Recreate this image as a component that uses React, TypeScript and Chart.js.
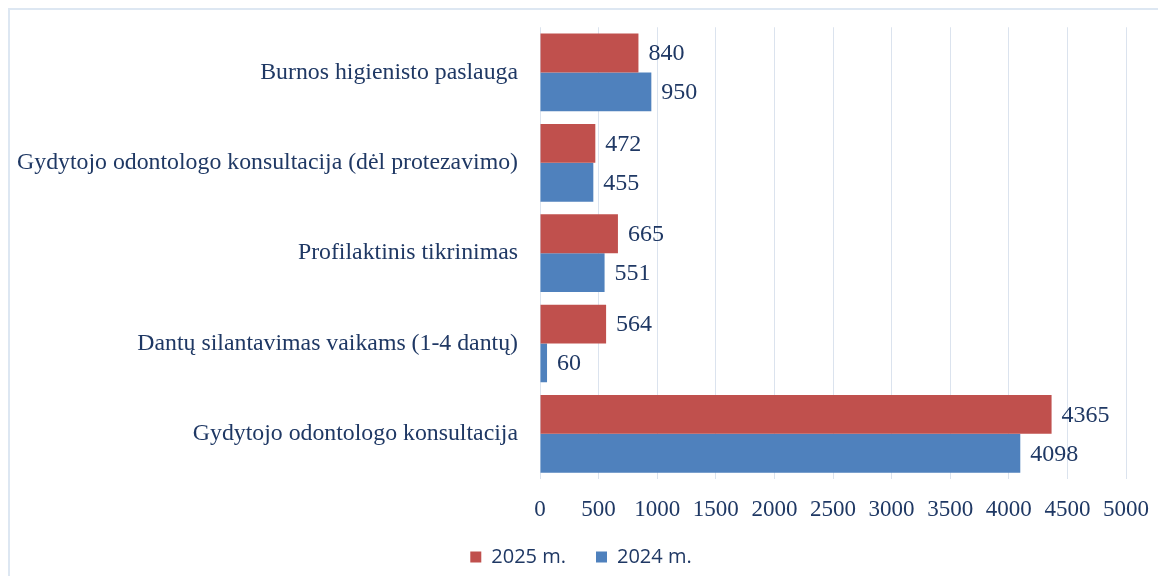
import React, { useEffect, useRef } from "react";
import { Chart, registerables } from "chart.js";

Chart.register(...registerables);

const categories = [
  "Burnos higienisto paslauga",
  "Gydytojo odontologo konsultacija (dėl protezavimo)",
  "Profilaktinis tikrinimas",
  "Dantų silantavimas vaikams (1-4 dantų)",
  "Gydytojo odontologo konsultacija",
];
const series2025 = [840, 472, 665, 564, 4365];
const series2024 = [950, 455, 551, 60, 4098];
const seriesLabels = ["2025 m.", "2024 m."];
const seriesColors = ["#C0504D", "#4F81BD"];
const xTicksMax = 5000;
const xTickStep = 500;

const TEXT = "#1F3864";
const SERIF = "'Liberation Serif', 'Times New Roman', serif";

const valueLabels = {
  id: "valueLabels",
  afterDatasetsDraw(chart: any) {
    const ctx = chart.ctx;
    ctx.save();
    ctx.font = `24px ${SERIF}`;
    ctx.fillStyle = TEXT;
    ctx.textAlign = "left";
    ctx.textBaseline = "middle";
    chart.data.datasets.forEach((ds: any, i: number) => {
      const meta = chart.getDatasetMeta(i);
      meta.data.forEach((el: any, j: number) => {
        ctx.fillText(String(ds.data[j]), el.x + 10, el.y + 1);
      });
    });
    ctx.restore();
  },
};

const legendShift = {
  id: "legendShift",
  beforeDraw(chart: any) {
    if (chart.legend) {
      chart.legend.left = 25;
    }
  },
};

export default function App() {
  const ref = useRef<HTMLCanvasElement>(null);
  useEffect(() => {
    document.body.style.overflow = "hidden";
    const chart = new Chart(ref.current!, {
      type: "bar",
      data: {
        labels: categories,
        datasets: [
          { label: seriesLabels[0], data: series2025, backgroundColor: seriesColors[0] },
          { label: seriesLabels[1], data: series2024, backgroundColor: seriesColors[1] },
        ],
      },
      options: {
        indexAxis: "y",
        animation: false,
        responsive: false,
        layout: { padding: { top: 0, right: 39, left: 0, bottom: 0 } },
        datasets: { bar: { categoryPercentage: 0.86, barPercentage: 1.0 } },
        scales: {
          x: {
            min: 0,
            max: xTicksMax,
            ticks: {
              stepSize: xTickStep,
              color: TEXT,
              font: { family: SERIF, size: 23 },
              padding: 17,
              callback: (v: any) => String(v),
            },
            grid: { color: "#dbe3ee", lineWidth: 1, drawTicks: false },
            border: { display: false },
            afterFit: (s: any) => { s.height = 38; },
          },
          y: {
            ticks: { color: TEXT, font: { family: SERIF, size: 23.8 }, padding: 22 },
            grid: { display: false, drawTicks: false },
            border: { display: false },
            afterFit: (s: any) => { s.width = 530; },
          },
        },
        plugins: {
          legend: {
            position: "bottom",
            labels: {
              color: TEXT,
              font: { family: "'Open Sans', sans-serif", size: 20 },
              boxWidth: 11,
              boxHeight: 11,
              padding: 30,
            },
          },
          tooltip: { enabled: false },
        },
      },
      plugins: [valueLabels, legendShift],
    });
    return () => chart.destroy();
  }, []);
  return (
    <div style={{ width: 1156, height: 570, border: "2px solid #dde7f2", overflow: "hidden" }}>
      <canvas ref={ref} width={1156} height={586} style={{ display: "block", marginTop: -19 }} />
    </div>
  );
}
